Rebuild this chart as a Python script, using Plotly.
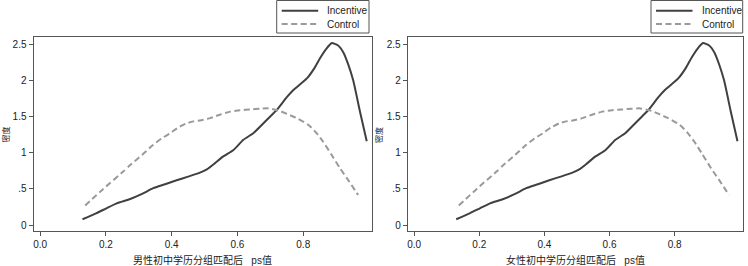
import plotly.graph_objects as go

# ---- data ----
inc_x = [0.129, 0.17, 0.203, 0.233, 0.274, 0.31, 0.344, 0.38, 0.415, 0.45, 0.486, 0.507, 0.53,
         0.557, 0.588, 0.618, 0.648, 0.679, 0.699, 0.719, 0.75, 0.77, 0.811, 0.835, 0.851, 0.870,
         0.887, 0.905, 0.922, 0.937, 0.952, 0.972, 0.993]
inc_y = [0.079, 0.16, 0.235, 0.30, 0.36, 0.43, 0.51, 0.565, 0.62, 0.67, 0.725, 0.77, 0.85,
         0.95, 1.04, 1.18, 1.27, 1.41, 1.50, 1.59, 1.77, 1.87, 2.03, 2.18, 2.31, 2.44,
         2.52, 2.49, 2.39, 2.22, 2.0, 1.58, 1.16]
ctl_x = [0.137, 0.192, 0.253, 0.274, 0.31, 0.344, 0.37, 0.395, 0.42, 0.446, 0.466, 0.49, 0.517,
         0.548, 0.578, 0.608, 0.638, 0.668, 0.694, 0.729, 0.755, 0.780, 0.816, 0.841, 0.861,
         0.885, 0.912, 0.94, 0.967]
ctl_y = [0.27, 0.50, 0.74, 0.83, 0.97, 1.11, 1.20, 1.27, 1.35, 1.41, 1.435, 1.45, 1.48,
         1.53, 1.57, 1.59, 1.60, 1.61, 1.615, 1.58, 1.53, 1.48, 1.385, 1.27, 1.15,
         0.98, 0.785, 0.60, 0.415]
series_names = ["Incentive", "Control"]
x_tickvals = [0.0, 0.2, 0.4, 0.6, 0.8]
x_ticktext = ["0.0", "0.2", "0.4", "0.6", "0.8"]
y_tickvals = [0, 0.5, 1, 1.5, 2, 2.5]
y_ticktext = ["0", ".5", "1", "1.5", "2", "2.5"]
x_titles = ["男性初中学历分组匹配后\u00a0\u00a0\u00a0ps值", "女性初中学历分组匹配后\u00a0\u00a0\u00a0ps值"]
y_title = "密度"

W, H = 748, 266
FONT = "Liberation Sans, Arial, Noto Sans CJK SC, sans-serif"
TXT = "#222222"
INC_C = "#404040"
CTL_C = "#9a9a9a"
FRAME = "#555555"
DASH = "6px,3.5px"

# (plot left px, plot right px, legend left px, legend right px, y-label x px)
panels = [(33.5, 372.0, 276.7, 369.0, 5.5), (407.7, 742.7, 651.0, 742.7, 379.0)]
top_px, bot_px = 36.7, 230.7


def px(xp):
    return xp / W


def py(yp):
    return (H - yp) / H


fig = go.Figure()
layout = dict(
    width=W, height=H, margin=dict(l=0, r=0, t=0, b=0),
    paper_bgcolor="white", plot_bgcolor="white",
    font=dict(family=FONT, size=10, color=TXT),
    showlegend=False,
    annotations=[], shapes=[],
)

for i, (x0, x1, lg0, lg1, ylx) in enumerate(panels):
    sfx = "" if i == 0 else str(i + 1)
    xa, ya = "x" + sfx, "y" + sfx
    fig.add_trace(go.Scatter(x=inc_x, y=inc_y, mode="lines", name=series_names[0],
                             line=dict(color=INC_C, width=2, shape="spline", smoothing=0.5),
                             xaxis=xa, yaxis=ya))
    fig.add_trace(go.Scatter(x=ctl_x, y=ctl_y, mode="lines", name=series_names[1],
                             line=dict(color=CTL_C, width=2, dash=DASH, shape="spline", smoothing=0.5),
                             xaxis=xa, yaxis=ya))
    axcommon = dict(showgrid=False, zeroline=False, showline=True, mirror=True,
                    linecolor=FRAME, linewidth=1, ticks="outside", ticklen=4,
                    tickcolor=FRAME, tickfont=dict(size=10, color=TXT))
    layout["xaxis" + sfx] = dict(axcommon, domain=[px(x0), px(x1)], range=[-0.02, 1.009],
                                 tickvals=x_tickvals, ticktext=x_ticktext, anchor=ya)
    layout["yaxis" + sfx] = dict(axcommon, domain=[py(bot_px), py(top_px)],
                                 range=[-0.079, 2.608], tickvals=y_tickvals, ticktext=y_ticktext,
                                 anchor=xa)
    # legend box (drawn by hand to match the compact reference legend)
    layout["shapes"].append(dict(type="rect", xref="paper", yref="paper",
                                 x0=px(lg0), x1=px(lg1), y0=py(33.0), y1=py(0.5),
                                 line=dict(color=FRAME, width=1), fillcolor="white"))
    for k, (name, col, dash, yy) in enumerate([(series_names[0], INC_C, "solid", 10.7),
                                               (series_names[1], CTL_C, DASH, 24.0)]):
        layout["shapes"].append(dict(type="line", xref="paper", yref="paper",
                                     x0=px(lg0 + 5), x1=px(lg0 + 41.5), y0=py(yy), y1=py(yy),
                                     line=dict(color=col, width=2, dash=dash)))
        layout["annotations"].append(dict(text=name, x=px(lg0 + 48.5), y=py(yy),
                                          xref="paper", yref="paper", showarrow=False,
                                          xanchor="left", yanchor="middle",
                                          font=dict(size=10, color=TXT)))
    layout["annotations"].append(dict(text=x_titles[i], x=px((x0 + x1) / 2), y=py(259.5),
                                      xref="paper", yref="paper", showarrow=False,
                                      xanchor="center", yanchor="middle",
                                      font=dict(size=10, color=TXT)))
    layout["annotations"].append(dict(text=y_title, x=px(ylx), y=py(135),
                                      xref="paper", yref="paper", showarrow=False,
                                      textangle=-90, xanchor="center", yanchor="middle",
                                      font=dict(size=8, color=TXT)))

fig.update_layout(**layout)
fig.write_html("out.html", config={"displayModeBar": False},
               post_script="document.body.style.margin='0';document.body.style.overflow='hidden';")
